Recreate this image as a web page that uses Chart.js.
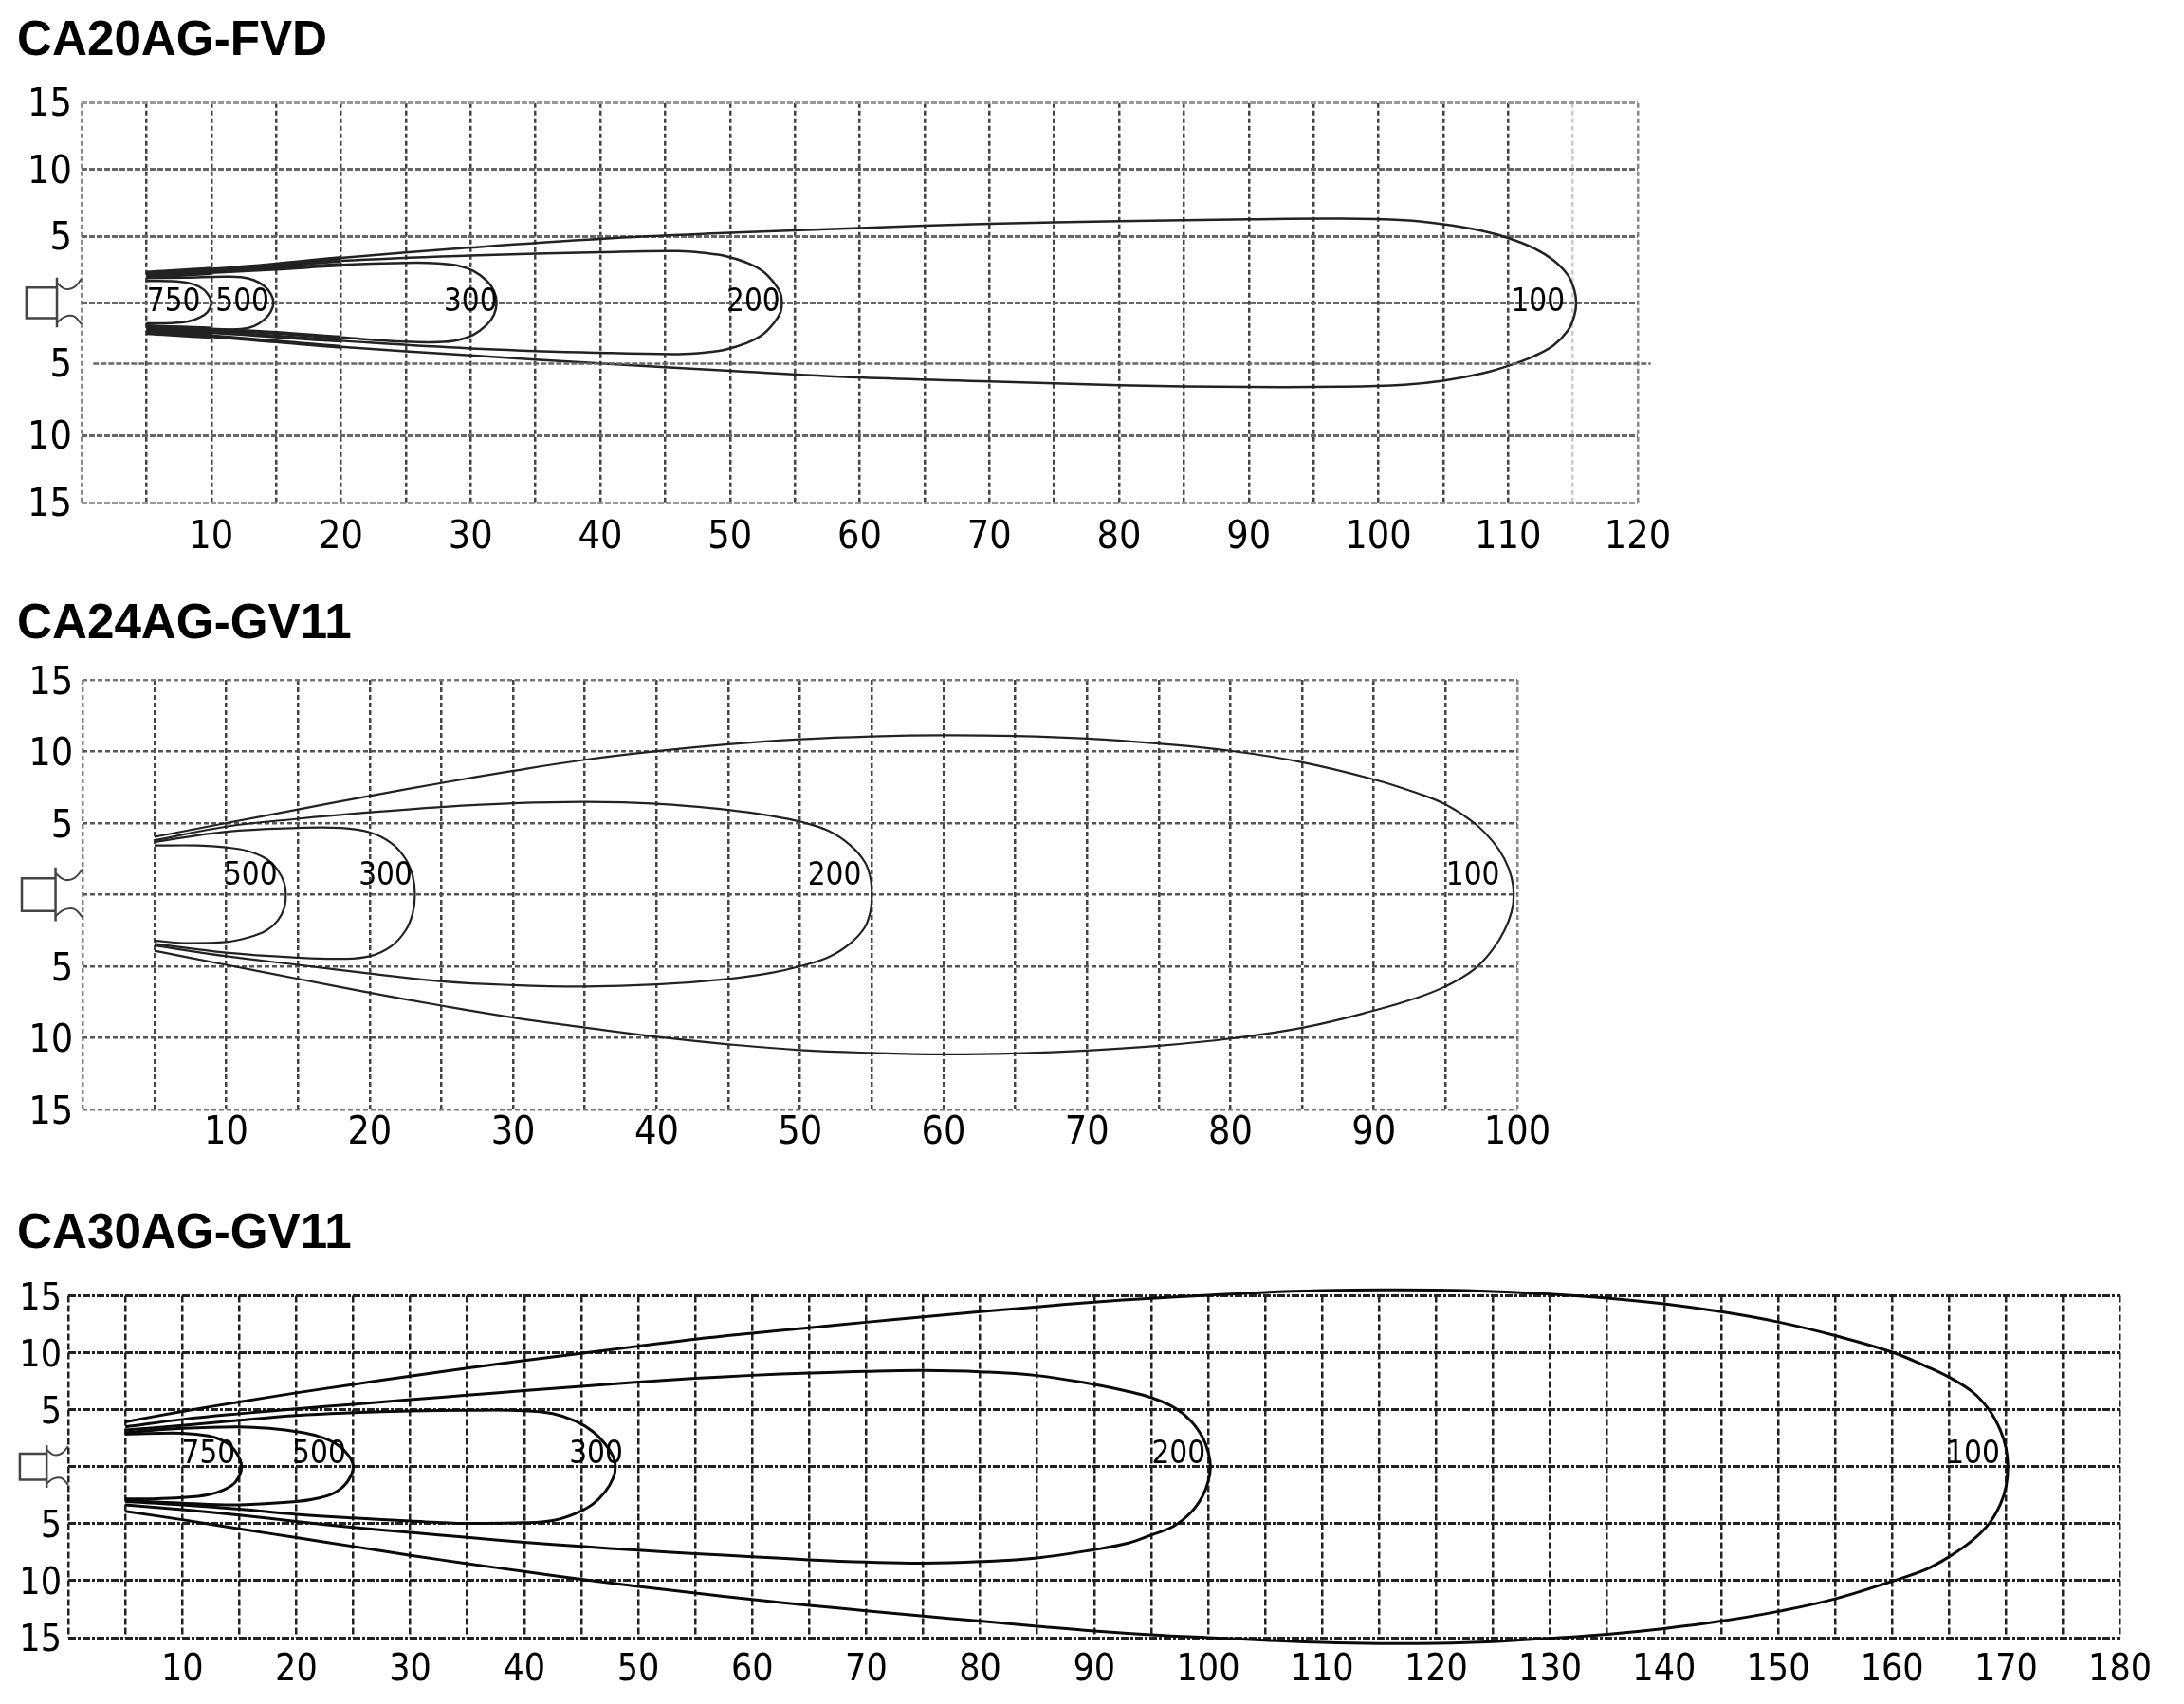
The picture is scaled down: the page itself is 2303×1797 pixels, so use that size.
<!DOCTYPE html>
<html>
<head>
<meta charset="utf-8">
<title>Beam distance charts</title>
<script src="https://cdn.jsdelivr.net/npm/chart.js@4"></script>
<style>
    html, body { margin: 0; padding: 0; background: #fff; }
    body { position: relative; width: 2303px; height: 1797px; overflow: hidden; }
    canvas { position: absolute; left: 0; }
    .name {
        position: absolute;
        left: 18px;
        font: bold 51.2px/1 "Liberation Sans", Arial, sans-serif;
        color: #000;
        white-space: nowrap;
    }
</style>
</head>
<body>
<div class="name" id="name1" style="top:15px">CA20AG-FVD</div>
<canvas id="chart1" width="2303" height="600" style="top:40px"></canvas>
<div class="name" id="name2" style="top:630px">CA24AG-GV11</div>
<canvas id="chart2" width="2303" height="600" style="top:660px"></canvas>
<div class="name" id="name3" style="top:1273px">CA30AG-GV11</div>
<canvas id="chart3" width="2303" height="480" style="top:1317px"></canvas>

<script>
// tick values
const yTicks = [15, 10, 5, 0, -5, -10, -15];
const yTickLabels = ['15', '10', '5', '', '5', '10', '15'];
// the lower 5 line sits a little high in the first chart
const yTicks1 = [15, 10, 5, 0, -10, -15, -4.57];
const yTickLabels1 = ['15', '10', '5', '', '10', '15', '5'];
const refLineX = [0.9, 121];
const refLineY = [-4.57, -4.57];

// lamp symbol left of the y axis, shared by all three charts
const plugBodyX = [-1.9, -1.9, -1.9, -4.25, -4.25, -1.9];
const plugBodyY = [1.9, -1.85, -1.15, -1.15, 1.15, 1.15];
const plugTopX = [0, -0.6, -1.3, -1.9];
const plugTopY = [1.8, 1.15, 1.05, 1.5];
const plugBottomX = [0, -0.6, -1.3, -1.9];
const plugBottomY = [-1.6, -1.0, -1.05, -1.5];

// CA20AG-FVD
const fvdLabels = ['750', '500', '300', '200', '100'];
const fvdLabelX = [7.1, 12.4, 30, 51.8, 112.3];
const fvdLabelY = [0, 0, 0, 0, 0];
const fvd100X = [5, 10, 15, 20, 30, 40, 50, 60, 70, 80, 90, 97, 102, 105, 108, 110, 112, 113.5, 114.6, 115.1, 115.25, 115.1, 114.6, 113.5, 112, 110, 108, 105, 102, 97, 90, 80, 70, 60, 50, 40, 30, 20, 15, 10, 5];
const fvd100Y = [2.2, 2.5, 2.9, 3.38, 4.15, 4.8, 5.25, 5.62, 5.93, 6.13, 6.27, 6.32, 6.2, 5.9, 5.4, 4.87, 4.1, 3.2, 2.1, 1, 0, -1, -2.1, -3.2, -4, -4.74, -5.3, -5.85, -6.15, -6.3, -6.32, -6.18, -5.9, -5.6, -5.1, -4.55, -3.95, -3.3, -2.9, -2.5, -2.2];
const fvd200X = [5, 10, 15, 20, 30, 40, 46, 48.2, 49.7, 51.2, 52.5, 53.4, 53.9, 54, 53.9, 53.4, 52.5, 51.2, 49.7, 48.2, 46, 40, 30, 20, 10, 5];
const fvd200Y = [2.1, 2.4, 2.75, 3.15, 3.55, 3.8, 3.88, 3.72, 3.5, 3.05, 2.4, 1.5, 0.7, 0, -0.7, -1.5, -2.4, -3.05, -3.5, -3.72, -3.85, -3.75, -3.42, -2.85, -2.2, -2];
const fvd300X = [5, 10, 15, 20, 25, 27.5, 29, 30.2, 31.2, 31.8, 32, 31.8, 31.2, 30.2, 29, 27.5, 25, 20, 15, 10, 5];
const fvd300Y = [2, 2.3, 2.55, 2.85, 3, 2.97, 2.8, 2.4, 1.7, 0.9, 0, -0.9, -1.7, -2.4, -2.8, -2.95, -2.92, -2.6, -2.25, -2, -1.85];
const fvd500X = [5, 8, 11, 12.3, 13.3, 14.1, 14.6, 14.8, 14.6, 14.1, 13.3, 12.3, 10, 5];
const fvd500Y = [1.85, 1.9, 1.97, 1.93, 1.7, 1.25, 0.65, 0, -0.65, -1.25, -1.75, -1.97, -2, -1.7];
const fvd750X = [5, 7, 8.2, 9.1, 9.7, 10, 9.7, 9.1, 8.2, 7, 5];
const fvd750Y = [1.65, 1.63, 1.5, 1.2, 0.7, 0, -0.7, -1.1, -1.4, -1.52, -1.55];

// CA24AG-GV11
const gv24Labels = ['500', '300', '200', '100'];
const gv24LabelX = [11.7, 21.1, 52.4, 96.9];
const gv24LabelY = [1.27, 1.27, 1.27, 1.27];
const gv24100X = [5, 10, 15, 20, 25, 30, 35, 40, 45, 50, 55, 60, 65, 70, 75, 80, 85, 90, 93, 95, 97, 98.3, 99.1, 99.6, 99.75, 99.6, 99.1, 98.3, 97, 95, 93, 90, 85, 80, 75, 70, 65, 60, 55, 50, 45, 40, 35, 30, 25, 20, 15, 10, 5];
const gv24100Y = [4.04, 5, 5.95, 6.9, 7.8, 8.65, 9.42, 10.02, 10.5, 10.85, 11.05, 11.13, 11.08, 10.9, 10.55, 10.05, 9.25, 8.05, 7.1, 6.3, 5, 3.7, 2.5, 1.2, 0, -1.2, -2.5, -3.8, -5.2, -6.4, -7.2, -8.1, -9.3, -10.05, -10.55, -10.88, -11.08, -11.15, -11.05, -10.85, -10.45, -9.93, -9.28, -8.58, -7.75, -6.85, -5.88, -4.9, -3.92];
const gv24200X = [5, 10, 15, 20, 25, 30, 35, 40, 45, 48, 50, 52, 53.5, 54.5, 54.9, 55, 54.9, 54.5, 53.5, 52, 50, 48, 45, 40, 35, 30, 25, 20, 15, 10, 5];
const gv24200Y = [3.8, 4.75, 5.3, 5.75, 6.12, 6.38, 6.48, 6.35, 5.92, 5.5, 5.1, 4.45, 3.45, 2.3, 1.2, 0, -1.2, -2.3, -3.4, -4.35, -5, -5.45, -5.88, -6.27, -6.42, -6.32, -6.05, -5.5, -4.9, -4.3, -3.55];
const gv24300X = [5, 10, 15, 18, 20, 21.5, 22.5, 23, 23.15, 23, 22.5, 21.5, 20, 18, 15, 10, 5];
const gv24300Y = [3.68, 4.4, 4.66, 4.66, 4.35, 3.6, 2.5, 1.3, 0, -1.3, -2.5, -3.6, -4.3, -4.48, -4.4, -4.05, -3.43];
const gv24500X = [5, 8, 10, 11.5, 12.8, 13.6, 14.05, 14.15, 14.05, 13.6, 12.8, 11.5, 10, 7, 5];
const gv24500Y = [3.43, 3.43, 3.3, 3.05, 2.5, 1.7, 0.8, 0, -0.9, -1.8, -2.5, -3, -3.3, -3.38, -3.2];

// CA30AG-GV11
const gv30Labels = ['750', '500', '300', '200', '100'];
const gv30LabelX = [12.3, 22, 46.3, 97.4, 167.1];
const gv30LabelY = [1, 1, 1, 1, 1];
const gv30100X = [5, 10, 15, 20, 25, 30, 35, 40, 45, 50, 55, 60, 65, 70, 75, 80, 85, 90, 95, 100, 105, 110, 115, 120, 125, 130, 135, 140, 145, 150, 155, 160, 163, 165, 167, 168.5, 169.5, 170, 170.15, 170, 169.5, 168.5, 167, 165, 163, 160, 155, 150, 145, 140, 135, 130, 125, 120, 115, 110, 105, 100, 95, 90, 85, 80, 75, 70, 65, 60, 55, 50, 45, 40, 35, 30, 25, 20, 15, 10, 5];
const gv30100Y = [3.94, 4.85, 5.68, 6.48, 7.22, 7.95, 8.65, 9.32, 9.95, 10.58, 11.2, 11.72, 12.2, 12.68, 13.15, 13.6, 14.03, 14.44, 14.78, 15.05, 15.3, 15.45, 15.52, 15.5, 15.38, 15.14, 14.8, 14.3, 13.6, 12.7, 11.5, 10.05, 8.8, 7.85, 6.6, 5, 3.2, 1.6, 0, -1.7, -3.3, -5, -6.5, -7.9, -9, -10.05, -11.6, -12.7, -13.55, -14.2, -14.7, -15.05, -15.35, -15.5, -15.52, -15.42, -15.22, -15, -14.75, -14.42, -14, -13.55, -13.1, -12.64, -12.17, -11.66, -11.08, -10.5, -9.88, -9.2, -8.5, -7.78, -7, -6.22, -5.45, -4.65, -3.91];
const gv30200X = [5, 10, 15, 20, 25, 30, 35, 40, 45, 50, 55, 60, 65, 70, 75, 80, 85, 90, 93, 95, 97, 98.5, 99.5, 100, 100.2, 100, 99.5, 98.5, 97, 95, 93, 90, 85, 80, 75, 70, 65, 60, 55, 50, 45, 40, 35, 30, 25, 20, 15, 10, 5];
const gv30200Y = [3.5, 4.15, 4.65, 5.08, 5.47, 5.88, 6.28, 6.67, 7.05, 7.42, 7.75, 8.02, 8.22, 8.37, 8.44, 8.33, 8, 7.22, 6.6, 6.06, 5.2, 4, 2.6, 1.3, 0, -1.3, -2.6, -4, -5.2, -6, -6.7, -7.28, -8, -8.33, -8.47, -8.37, -8.17, -7.9, -7.63, -7.33, -7, -6.63, -6.2, -5.77, -5.32, -4.8, -4.25, -3.77, -3.34];
const gv30300X = [5, 10, 15, 20, 25, 30, 35, 40, 42.5, 44.5, 46, 47.1, 47.8, 48, 47.8, 47.1, 46, 44.5, 42.5, 40, 35, 30, 25, 20, 15, 10, 5];
const gv30300Y = [3.23, 3.62, 4.07, 4.5, 4.74, 4.89, 4.95, 4.92, 4.66, 4, 3.1, 2, 0.9, 0, -1, -2.2, -3.3, -4.1, -4.72, -4.92, -4.97, -4.77, -4.5, -4.18, -3.72, -3.34, -3.06];
const gv30500X = [5, 10, 15, 18, 20, 22, 23.5, 24.5, 25, 24.5, 23.5, 22, 20, 15, 10, 5];
const gv30500Y = [3, 3.37, 3.5, 3.33, 3.08, 2.65, 2, 1.1, 0, -1.3, -2.2, -2.75, -3.06, -3.34, -3.2, -2.97];
const gv30750X = [5, 10, 12.3, 13.7, 14.7, 15.2, 14.7, 13.7, 12.3, 10, 7, 5];
const gv30750Y = [2.86, 2.94, 2.7, 2.2, 1.3, 0, -1.3, -2, -2.45, -2.71, -2.83, -2.83];

const tickFont = '"DejaVu Sans Condensed", "DejaVu Sans", sans-serif';

function xy(xs, ys) {
    return xs.map((x, i) => ({ x, y: ys[i] }));
}

function curve(xs, ys, color, width, tension) {
    return {
        data: xy(xs, ys),
        showLine: true,
        borderColor: color,
        borderWidth: width,
        pointRadius: 0,
        tension: tension,
        capBezierPoints: false,
        clip: false
    };
}

// first chart: the contours merge into a heavy black band near the lamp
function heavyStart(xs, ys, color, width) {
    return {
        ...curve(xs, ys, color, width, 0.4),
        segment: {
            borderWidth: ctx => {
                const near = Math.min(ctx.p0.parsed.x, ctx.p1.parsed.x);
                return near < 10 ? 6 : near < 20 ? 4 : width;
            }
        }
    };
}

function plugDatasets() {
    return [
        curve(plugBodyX, plugBodyY, '#444', 2.5, 0),
        curve(plugTopX, plugTopY, '#444', 2, 0.4),
        curve(plugBottomX, plugBottomY, '#444', 2, 0.4)
    ];
}

// writes the lux value next to each contour
const contourLabels = {
    id: 'contourLabels',
    afterDatasetsDraw(chart, args, opts) {
        const ctx = chart.ctx;
        ctx.save();
        ctx.font = opts.size + 'px ' + tickFont;
        ctx.fillStyle = '#000';
        ctx.textAlign = 'center';
        ctx.textBaseline = 'middle';
        opts.labels.forEach((text, i) => {
            ctx.fillText(text, chart.scales.x.getPixelForValue(opts.x[i]), chart.scales.y.getPixelForValue(opts.y[i]));
        });
        ctx.restore();
    }
};

function makeChart(cfg) {
    const canvas = document.getElementById(cfg.id);
    const box = { top: parseInt(canvas.style.top), height: canvas.height };
    return new Chart(canvas, {
        type: 'scatter',
        plugins: [contourLabels],
        data: { datasets: cfg.datasets },
        options: {
            responsive: false,
            animation: false,
            layout: {
                autoPadding: false,
                padding: { left: 0, top: cfg.plotTop - box.top, right: 2303 - cfg.plotRight, bottom: 0 }
            },
            plugins: {
                legend: { display: false },
                title: { display: false },
                tooltip: { enabled: false },
                contourLabels: { labels: cfg.labels, x: cfg.labelX, y: cfg.labelY, size: cfg.labelSize }
            },
            scales: {
                x: {
                    type: 'linear',
                    min: 0,
                    max: cfg.xMax,
                    afterFit(scale) { scale.height = box.top + box.height - cfg.plotBottom; },
                    afterBuildTicks(scale) {
                        scale.ticks = [];
                        for (let v = 0; v <= cfg.xMax; v += 5) scale.ticks.push({ value: v });
                    },
                    border: { display: false, dash: cfg.xDash },
                    grid: {
                        drawTicks: false,
                        color: ctx => cfg.xGridColor(ctx.tick.value),
                        lineWidth: cfg.xGridWidth
                    },
                    ticks: {
                        autoSkip: false,
                        maxRotation: 0,
                        padding: cfg.xPad,
                        color: '#000',
                        font: { family: tickFont, size: cfg.tickSize },
                        callback: v => (v > 0 && v % 10 === 0 ? String(v) : '')
                    }
                },
                y: {
                    type: 'linear',
                    min: -15,
                    max: 15,
                    afterFit(scale) { scale.width = cfg.plotLeft; },
                    afterBuildTicks(scale) {
                        scale.ticks = cfg.yValues.map(v => ({ value: v }));
                    },
                    border: { display: false, dash: cfg.yDash },
                    grid: {
                        drawTicks: false,
                        color: ctx => cfg.yGridColor(ctx.tick.value),
                        lineWidth: cfg.yGridWidth
                    },
                    ticks: {
                        autoSkip: false,
                        padding: cfg.yPad,
                        labelOffset: cfg.yOffset,
                        color: '#000',
                        font: { family: tickFont, size: cfg.tickSize },
                        callback: (v, i) => cfg.yLabels[i]
                    }
                }
            }
        }
    });
}

const line1 = '#222';
makeChart({
    id: 'chart1',
    plotLeft: 86, plotRight: 1727, plotTop: 108.7, plotBottom: 530,
    xMax: 120, tickSize: 41, labelSize: 33, xPad: 13, yPad: 10, yOffset: 3,
    yValues: yTicks1, yLabels: yTickLabels1,
    xDash: [5, 3], yDash: [6, 2], xGridWidth: 2.5, yGridWidth: 3,
    xGridColor: v => (v === 115 ? '#ccc' : v === 0 || v === 120 ? '#888' : '#444'),
    yGridColor: v => (v === -4.57 ? 'rgba(0,0,0,0)' : Math.abs(v) === 15 ? '#999' : '#666'),
    labels: fvdLabels, labelX: fvdLabelX, labelY: fvdLabelY,
    datasets: [
        {
            ...curve(refLineX, refLineY, '#666', 2.5, 0),
            borderDash: [6, 2]
        },
        heavyStart(fvd100X, fvd100Y, line1, 2.5),
        heavyStart(fvd200X, fvd200Y, line1, 2.5),
        heavyStart(fvd300X, fvd300Y, line1, 2.5),
        curve(fvd500X, fvd500Y, line1, 2.5, 0.4),
        curve(fvd750X, fvd750Y, line1, 2.5, 0.4),
        ...plugDatasets()
    ]
});

const line2 = '#222';
makeChart({
    id: 'chart2',
    plotLeft: 87.3, plotRight: 1600, plotTop: 717, plotBottom: 1170,
    xMax: 100, tickSize: 41, labelSize: 33, xPad: 1, yPad: 10, yOffset: 4,
    yValues: yTicks, yLabels: yTickLabels,
    xDash: [5, 3], yDash: [5, 3], xGridWidth: 2.5, yGridWidth: 2.5,
    xGridColor: v => (v === 0 || v === 100 ? '#888' : '#444'),
    yGridColor: v => (Math.abs(v) === 15 ? '#777' : '#555'),
    labels: gv24Labels, labelX: gv24LabelX, labelY: gv24LabelY,
    datasets: [
        curve(gv24100X, gv24100Y, line2, 2.2, 0.4),
        curve(gv24200X, gv24200Y, line2, 2.2, 0.4),
        curve(gv24300X, gv24300Y, line2, 2.2, 0.4),
        curve(gv24500X, gv24500Y, line2, 2.2, 0.4),
        ...plugDatasets()
    ]
});

const line3 = '#0a0a0a';
makeChart({
    id: 'chart3',
    plotLeft: 72, plotRight: 2235.6, plotTop: 1366.5, plotBottom: 1727,
    xMax: 180, tickSize: 39, labelSize: 33, xPad: 11, yPad: 7, yOffset: 4,
    yValues: yTicks, yLabels: yTickLabels,
    xDash: [7, 3], yDash: [8, 2, 3, 2], xGridWidth: 2.5, yGridWidth: 3,
    xGridColor: v => '#222',
    yGridColor: v => '#222',
    labels: gv30Labels, labelX: gv30LabelX, labelY: gv30LabelY,
    datasets: [
        curve(gv30100X, gv30100Y, line3, 3, 0.4),
        curve(gv30200X, gv30200Y, line3, 3, 0.4),
        curve(gv30300X, gv30300Y, line3, 3, 0.4),
        curve(gv30500X, gv30500Y, line3, 3, 0.4),
        curve(gv30750X, gv30750Y, line3, 3, 0.4),
        ...plugDatasets()
    ]
});
</script>
</body>
</html>
